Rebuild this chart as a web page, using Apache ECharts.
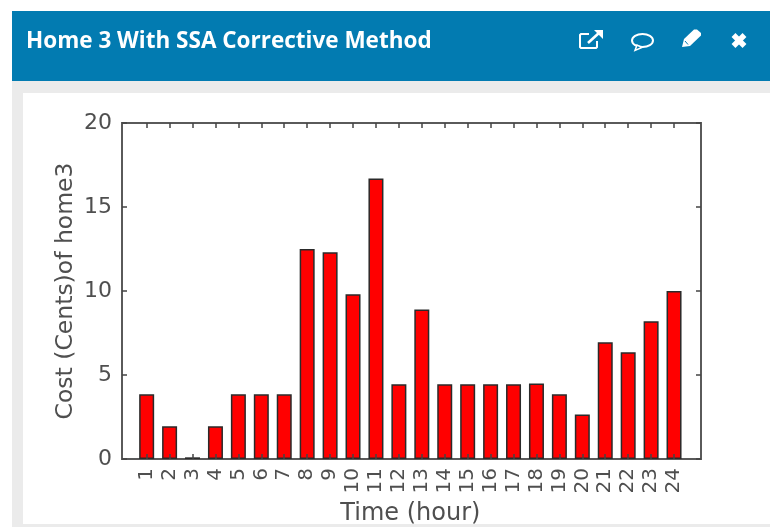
<!DOCTYPE html>
<html>
<head>
<meta charset="utf-8">
<title>Home 3 With SSA Corrective Method</title>
<style>
  html, body { margin: 0; padding: 0; background: #fff; }
  #chart { width: 770px; height: 527px; }
</style>
</head>
<body>
<div id="chart"></div>
<script src="https://cdn.jsdelivr.net/npm/echarts@6/dist/echarts.min.js"></script>
<script>
const hours = ["1","2","3","4","5","6","7","8","9","10","11","12","13","14","15","16","17","18","19","20","21","22","23","24"];
const cost = [3.85,1.95,0.1,1.95,3.85,3.85,3.85,12.5,12.3,9.8,16.7,4.45,8.9,4.45,4.45,4.45,4.45,4.5,3.85,2.65,6.95,6.35,8.2,10];

const inkColor = "#4f4f4f";
const frameColor = "#5a5a5a";
const headerColor = "#027bb1";
const panelGrey = "#ebebeb";

const myChart = echarts.init(document.getElementById("chart"));

const yBase = { type: "value", min: 0, max: 20, interval: 5 };
const tickStyle = { color: "#444", width: 1.5 };
const iconLine = { fill: "none", stroke: "#fff", lineWidth: 2 };

myChart.setOption({
  animation: false,
  backgroundColor: "#fff",
  // grid 0 is only the plot frame, grid 1 holds the bars (narrower, like the gnuplot x range)
  grid: [
    { left: 122, right: 69, top: 123, bottom: 68, outerBoundsMode: "none", show: true, borderColor: frameColor, borderWidth: 2, backgroundColor: "#fff" },
    { left: 135.2, right: 84.5, top: 123, bottom: 68, outerBoundsMode: "none" },
  ],
  xAxis: [
    { gridIndex: 0, type: "category", data: [], show: false },
    {
      gridIndex: 1,
      type: "category",
      data: hours,
      z: 5,
      axisLine: { show: false },
      axisTick: { show: true, inside: true, alignWithLabel: true, length: 5, lineStyle: tickStyle },
      axisLabel: { interval: 0, rotate: 90, color: inkColor, fontFamily: "DejaVu Sans", fontSize: 20, margin: 9 },
      name: "Time (hour)",
      nameLocation: "middle",
      nameGap: 41,
      nameTextStyle: { color: inkColor, fontFamily: "DejaVu Sans", fontSize: 24 },
    },
    {
      gridIndex: 1,
      type: "category",
      position: "top",
      data: hours,
      z: 5,
      axisLine: { show: false },
      axisTick: { show: true, inside: true, alignWithLabel: true, length: 5, lineStyle: tickStyle },
      axisLabel: { show: false },
    },
  ],
  yAxis: [
    {
      ...yBase,
      gridIndex: 0,
      z: 5,
      axisLine: { show: false },
      axisTick: { show: true, inside: true, length: 5, lineStyle: tickStyle },
      axisLabel: { color: inkColor, fontFamily: "DejaVu Sans", fontSize: 22, margin: 10 },
      splitLine: { show: false },
      name: "Cost (Cents)of home3",
      nameLocation: "middle",
      nameGap: 44,
      nameMoveOverlap: false,
      nameTextStyle: { color: inkColor, fontFamily: "DejaVu Sans", fontSize: 23.5 },
    },
    {
      ...yBase,
      gridIndex: 0,
      position: "right",
      z: 5,
      axisLine: { show: false },
      axisTick: { show: true, inside: true, length: 5, lineStyle: tickStyle },
      axisLabel: { show: false },
      splitLine: { show: false },
    },
    { ...yBase, gridIndex: 1, show: false },
  ],
  series: [
    {
      type: "bar",
      xAxisIndex: 1,
      yAxisIndex: 2,
      data: cost,
      barWidth: 15,
      itemStyle: { color: "#ff0000", borderColor: "#2a2a2a", borderWidth: 1.5 },
    },
  ],
  graphic: [
    { type: "rect", z: -10, silent: true, shape: { x: 12, y: 81, width: 758, height: 446 }, style: { fill: panelGrey } },
    { type: "rect", z: -9, silent: true, shape: { x: 23, y: 93, width: 747, height: 431 }, style: { fill: "#fff" } },
    { type: "rect", z: 10, silent: true, shape: { x: 12, y: 11, width: 758, height: 70 }, style: { fill: headerColor } },
    {
      type: "text", z: 11, silent: true, x: 26, y: 42,
      style: { text: "Home 3 With SSA Corrective Method", fill: "#fff", font: "700 22.5px 'Open Sans'", textVerticalAlign: "middle" },
    },
    // external link icon
    { type: "polyline", z: 11, silent: true, shape: { points: [[589, 34], [581, 34], [580, 35], [580, 47], [581, 48], [596, 48], [597, 47], [597, 41]] }, style: iconLine },
    { type: "line", z: 11, silent: true, shape: { x1: 588, y1: 43, x2: 600, y2: 32 }, style: { stroke: "#fff", lineWidth: 2.6 } },
    { type: "polygon", z: 11, silent: true, shape: { points: [[594, 30], [603, 30], [603, 39]] }, style: { fill: "#fff" } },
    // speech bubble icon
    { type: "ellipse", z: 11, silent: true, shape: { cx: 642.5, cy: 40.5, rx: 10.5, ry: 6.5 }, style: iconLine },
    { type: "polygon", z: 11, silent: true, shape: { points: [[637, 45], [635, 50.5], [642, 47.5]] }, style: { fill: headerColor, stroke: "#fff", lineWidth: 1.5 } },
    // pencil icon
    { type: "polygon", z: 11, silent: true, shape: { points: [[682, 47], [684, 39], [694, 29.5], [697, 29.5], [701, 33], [701, 35.5], [690, 46]] }, style: { fill: "#fff" } },
    { type: "line", z: 11, silent: true, shape: { x1: 685, y1: 41, x2: 688, y2: 44.5 }, style: { stroke: headerColor, lineWidth: 1 } },
    // close icon
    { type: "line", z: 11, silent: true, shape: { x1: 733.5, y1: 35, x2: 744.5, y2: 46 }, style: { stroke: "#fff", lineWidth: 5.5 } },
    { type: "line", z: 11, silent: true, shape: { x1: 744.5, y1: 35, x2: 733.5, y2: 46 }, style: { stroke: "#fff", lineWidth: 5.5 } },
  ],
});

window.addEventListener("resize", function () {
  myChart.resize();
});
</script>
</body>
</html>
